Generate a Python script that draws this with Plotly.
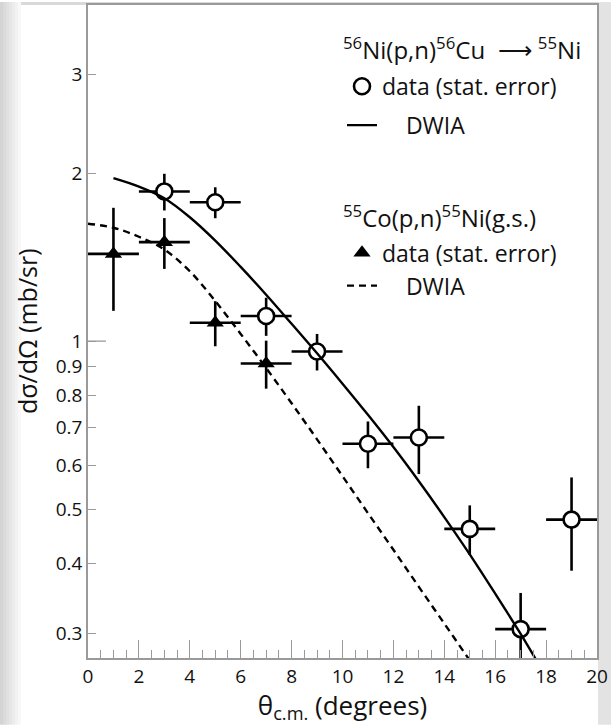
import plotly.graph_objects as go

# ---------------- data ----------------
# 56Ni(p,n)56Cu -> 55Ni : open circles
ni_theta = [3, 5, 7, 9, 11, 13, 15, 17, 19]
ni_xs = [1.854, 1.773, 1.109, 0.958, 0.655, 0.672, 0.461, 0.305, 0.479]
ni_err = [0.14, 0.113, 0.087, 0.072, 0.063, 0.094, 0.047, 0.049, 0.091]
ni_theta_err = [1, 1, 1, 1, 1, 1, 1, 1, 1]

# 55Co(p,n)55Ni(g.s.) : filled triangles
co_theta = [1, 3, 5, 7]
co_xs = [1.433, 1.504, 1.079, 0.912]
co_err = [0.30, 0.157, 0.10, 0.09]
co_theta_err = [1, 1, 1, 1]

# DWIA curves
dwia_ni_theta = [1, 2, 3, 4, 5, 6, 7, 8, 9, 10, 11, 12, 13, 14, 15, 16, 17, 17.6]
dwia_ni_xs = [1.959, 1.892, 1.803, 1.667, 1.514, 1.358, 1.211, 1.074, 0.951,
              0.839, 0.738, 0.646, 0.561, 0.484, 0.415, 0.353, 0.299, 0.269]

dwia_co_theta = [0, 1, 2, 3, 4, 5, 6, 7, 8, 9, 10, 11, 12, 13, 14, 15]
dwia_co_xs = [1.623, 1.596, 1.538, 1.459, 1.334, 1.180, 1.030, 0.895, 0.774,
              0.667, 0.573, 0.492, 0.423, 0.363, 0.312, 0.268]

y_ticks = [0.3, 0.4, 0.5, 0.6, 0.7, 0.8, 0.9, 1, 2, 3]
y_ticktext = ["0.3", "0.4", "0.5", "0.6", "0.7", "0.8", "0.9", "1", "2", "3"]
x_ticks = [0, 2, 4, 6, 8, 10, 12, 14, 16, 18, 20]

title_ni = "<sup>56</sup>Ni(p,n)<sup>56</sup>Cu  \u27f6 <sup>55</sup>Ni"
title_co = "<sup>55</sup>Co(p,n)<sup>55</sup>Ni(g.s.)"

FONT = "Open Sans"
W, H = 611, 725
ML, MR, MT, MB = 88, 14, 3, 67
PW, PH = W - ML - MR, H - MT - MB

fig = go.Figure()

ebar = dict(color="black", thickness=2.6, width=0)

fig.add_trace(go.Scatter(
    x=co_theta, y=co_xs, mode="markers", name="data (stat. error)",
    marker=dict(symbol="triangle-up", size=15, color="black"),
    error_y=dict(type="data", array=co_err, **ebar),
    error_x=dict(type="data", array=co_theta_err, **ebar),
    legend="legend2", legendgroup="c1",
))
fig.add_trace(go.Scatter(
    x=ni_theta, y=ni_xs, mode="markers", name="data (stat. error)",
    marker=dict(symbol="circle", size=16, color="white",
                line=dict(color="black", width=2.6)),
    error_y=dict(type="data", array=ni_err, **ebar),
    error_x=dict(type="data", array=ni_theta_err, **ebar),
    legend="legend", legendgroup="n1",
))
fig.add_trace(go.Scatter(
    x=dwia_ni_theta, y=dwia_ni_xs, mode="lines", name="    DWIA",
    line=dict(color="black", width=2.4, shape="spline"),
    legend="legend", legendgroup="n2",
))
fig.add_trace(go.Scatter(
    x=dwia_co_theta, y=dwia_co_xs, mode="lines", name="    DWIA",
    line=dict(color="black", width=2.4, dash="7px,5px", shape="spline"),
    legend="legend2", legendgroup="c2",
))

axis_col = "#9a9a9a"
tickfont = dict(family=FONT, size=19, color="#111111")

fig.update_xaxes(
    range=[0, 20], tickvals=x_ticks, ticks="inside", ticklen=18,
    tickwidth=1.3, tickcolor=axis_col, showline=True, linecolor=axis_col,
    linewidth=1.5, mirror=True, showgrid=False, zeroline=False,
    tickfont=tickfont,
    minor=dict(dtick=0.5, ticks="inside", ticklen=8, tickcolor=axis_col,
               tickwidth=1.3, showgrid=False),
    title=dict(text="\u03b8<sub>c.m.</sub> (degrees)",
               font=dict(family=FONT, size=26, color="#111111"), standoff=2),
)
fig.update_yaxes(
    type="log", range=[-0.5675, 0.602], tickvals=y_ticks, ticktext=y_ticktext,
    ticks="inside", ticklen=8, tickwidth=1.3, tickcolor=axis_col,
    showline=True, linecolor=axis_col, linewidth=1.5, mirror=True,
    showgrid=False, zeroline=False, tickfont=tickfont,
)

def px_x(p):
    return (p - ML) / PW

def px_y(p):
    return (H - MB - p) / PH

shapes = [
    # longer decade tick at 1
    dict(type="line", xref="paper", yref="y", x0=0, x1=18 / PW, y0=1, y1=1,
         line=dict(color=axis_col, width=1.3)),
    # grey frame of the slide
    dict(type="rect", xref="paper", yref="paper", x0=px_x(0), x1=px_x(W),
         y0=px_y(3), y1=px_y(0), fillcolor="#d9d9d9", line_width=0, layer="below"),
    dict(type="rect", xref="paper", yref="paper", x0=px_x(598), x1=px_x(W),
         y0=px_y(H), y1=px_y(0), fillcolor="#e3e3e3", line_width=0, layer="below"),
]
left_cols = ["#d4d4d4", "#dadada", "#e0e0e0", "#e6e6e6", "#ececec", "#f2f2f2", "#f8f8f8"]
for i, c in enumerate(left_cols):
    shapes.append(dict(type="rect", xref="paper", yref="paper",
                       x0=px_x(i * 3), x1=px_x(i * 3 + 3), y0=px_y(H), y1=px_y(0),
                       fillcolor=c, line_width=0, layer="below"))

leg_font = dict(family=FONT, size=23, color="#111111")
fig.update_layout(
    width=W, height=H,
    margin=dict(l=ML, r=MR, t=MT, b=MB),
    paper_bgcolor="white", plot_bgcolor="white",
    font=dict(family=FONT, color="#111111"),
    shapes=shapes,
    legend=dict(
        x=px_x(342), y=px_y(63), xanchor="left", yanchor="top",
        bgcolor="rgba(0,0,0,0)", borderwidth=0, font=leg_font,
        tracegroupgap=6, itemwidth=30,
    ),
    legend2=dict(
        x=px_x(342), y=px_y(230), xanchor="left", yanchor="top",
        bgcolor="rgba(0,0,0,0)", borderwidth=0, font=leg_font,
        tracegroupgap=0, itemwidth=30,
    ),
    annotations=[
        dict(text=title_ni, xref="paper", yref="paper", x=px_x(341), y=px_y(47),
             xanchor="left", yanchor="middle", showarrow=False,
             font=dict(family=FONT, size=24, color="#111111")),
        dict(text=title_co, xref="paper", yref="paper", x=px_x(341), y=px_y(215),
             xanchor="left", yanchor="middle", showarrow=False,
             font=dict(family=FONT, size=24, color="#111111")),
        dict(text="d\u03c3/d\u03a9 (mb/sr)", textangle=-90, xref="paper", yref="paper",
             x=px_x(27), y=px_y(330), xanchor="center", yanchor="middle",
             showarrow=False, font=dict(family=FONT, size=25, color="#111111")),
    ],
)

fig.write_html("out.html")
